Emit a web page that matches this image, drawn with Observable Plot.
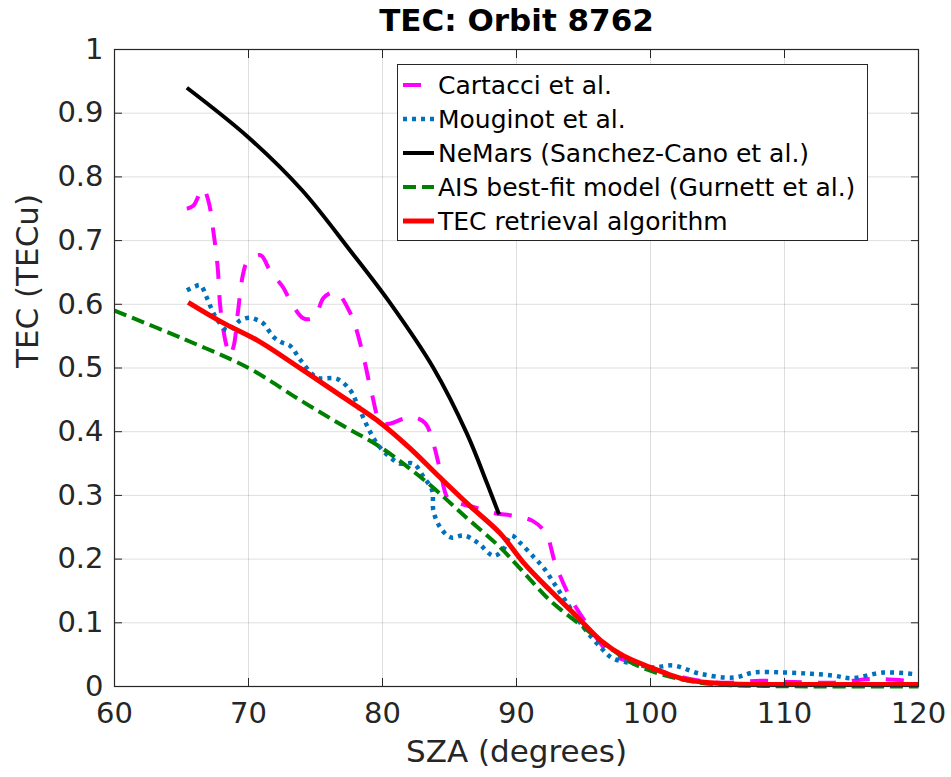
<!DOCTYPE html>
<html>
<head>
<meta charset="utf-8">
<script src="https://cdn.jsdelivr.net/npm/d3@7"></script>
<script src="https://cdn.jsdelivr.net/npm/@observablehq/plot@0.6"></script>
<style>
  body { margin: 0; background: #fff; }
  #wrap { position: relative; width: 951px; height: 777px; font-family: "DejaVu Sans", sans-serif; }
  #legend { position: absolute; left: 397px; top: 64px; width: 471px; height: 177px; box-sizing: border-box;
            border: 1px solid #262626; background: #fff; }
  .row { position: absolute; left: 0; height: 34px; display: flex; align-items: center; }
  .row svg { width: 40px; height: 34px; }
  .row span { font-size: 25px; color: #000; margin-left: 0px; white-space: nowrap; }
</style>
</head>
<body>
<div id="wrap"></div>
<script>
// ---- data ----
const titleText = "TEC: Orbit 8762";
const xLabel = "SZA (degrees)";
const yLabel = "TEC (TECu)";
const xTicks = [60, 70, 80, 90, 100, 110, 120];
const yTicks = [0, 0.1, 0.2, 0.3, 0.4, 0.5, 0.6, 0.7, 0.8, 0.9, 1];
const yTickLabels = ["0", "0.1", "0.2", "0.3", "0.4", "0.5", "0.6", "0.7", "0.8", "0.9", "1"];

const seriesNames = ["Cartacci et al.", "Mouginot et al.", "NeMars (Sanchez-Cano et al.)", "AIS best-fit model (Gurnett et al.)", "TEC retrieval algorithm"];
const seriesColors = ["#ff00ff", "#0072bd", "#000000", "#008000", "#ff0000"];
const seriesDash = ["18,16", "4,5", null, "13,6", null];

const cartacciSZA = [65.4, 65.9, 66.6, 67.0, 67.4, 67.7, 67.9, 68.3, 68.6, 68.9, 69.2, 69.6, 69.9, 70.9, 71.6, 72.6, 73.1, 74.1, 74.9, 75.6, 76.3, 76.7, 77.6, 78.0, 78.6, 79.2, 79.9, 80.6, 81.5, 82.3, 83.2, 83.8, 84.3, 84.9, 85.8, 86.9, 88.4, 89.8, 91.2, 92.2, 92.9, 94.0, 95.5, 97.0, 99.5, 102.5, 105.2, 108.2, 110.7, 113.7, 116.6, 119.4, 120];
const cartacciTEC = [0.75, 0.755, 0.782, 0.763, 0.711, 0.658, 0.595, 0.54, 0.52, 0.535, 0.586, 0.648, 0.666, 0.677, 0.653, 0.626, 0.606, 0.578, 0.579, 0.61, 0.619, 0.617, 0.586, 0.564, 0.516, 0.46, 0.413, 0.413, 0.42, 0.423, 0.413, 0.381, 0.34, 0.295, 0.287, 0.281, 0.272, 0.268, 0.26, 0.24, 0.193, 0.14, 0.091, 0.052, 0.033, 0.014, 0.006, 0.009, 0.007, 0.006, 0.012, 0.009, 0.009];

const mouginotSZA = [65.4, 66.0, 66.4, 66.9, 67.3, 67.7, 68.4, 68.9, 69.4, 70.1, 70.6, 71.1, 71.9, 72.5, 73.1, 73.9, 75.1, 76.6, 77.6, 78.1, 78.9, 79.6, 80.4, 81.3, 82.3, 83.1, 83.7, 83.8, 84.3, 85.1, 86.1, 87.1, 88.3, 89.0, 89.6, 90.3, 91.3, 92.0, 92.8, 93.8, 95.0, 96.3, 97.2, 98.7, 100.2, 101.7, 103.7, 106.2, 107.7, 110.0, 112.0, 113.7, 115.0, 117.4, 119.9];
const mouginotTEC = [0.622, 0.628, 0.63, 0.61, 0.59, 0.575, 0.559, 0.565, 0.575, 0.579, 0.576, 0.57, 0.548, 0.54, 0.535, 0.512, 0.485, 0.483, 0.465, 0.444, 0.407, 0.381, 0.363, 0.35, 0.35, 0.328, 0.308, 0.276, 0.25, 0.234, 0.237, 0.226, 0.205, 0.215, 0.237, 0.225, 0.203, 0.187, 0.162, 0.13, 0.093, 0.061, 0.044, 0.036, 0.03, 0.033, 0.02, 0.014, 0.022, 0.022, 0.02, 0.017, 0.013, 0.022, 0.019];

const nemarsSZA = [65.4, 70, 74, 77.6, 80.6, 83.8, 86.3, 87.8, 88.7];
const nemarsTEC = [0.94, 0.862, 0.779, 0.684, 0.601, 0.50, 0.397, 0.319, 0.27];

const aisSZA = [60, 65, 70, 73.9, 77, 79.9, 83.4, 86, 88.8, 90.5, 92.5, 95, 97, 98.7, 101, 103.7, 106, 108, 112, 120];
const aisTEC = [0.59, 0.547, 0.50, 0.449, 0.41, 0.375, 0.319, 0.27, 0.218, 0.18, 0.135, 0.093, 0.06, 0.036, 0.018, 0.006, 0.002, 0.001, 0, 0];

const tecSZA = [65.5, 68, 70.7, 73.9, 77, 79.9, 82, 84.3, 86.5, 88.8, 90.5, 92.5, 94.5, 96.3, 98, 100, 101.5, 102.8, 104.5, 106.2, 110, 115, 120];
const tecTEC = [0.603, 0.572, 0.543, 0.499, 0.455, 0.413, 0.375, 0.328, 0.284, 0.24, 0.195, 0.151, 0.11, 0.072, 0.048, 0.030, 0.018, 0.01, 0.006, 0.004, 0.003, 0.003, 0.003];

// ---- build ----
const allSZA = [cartacciSZA, mouginotSZA, nemarsSZA, aisSZA, tecSZA];
const allTEC = [cartacciTEC, mouginotTEC, nemarsTEC, aisTEC, tecTEC];
const tables = allSZA.map((xs, k) => xs.map((x, i) => ({sza: x, tec: allTEC[k][i]})));
const widths = [4, 4.5, 4, 4, 5];

const lineMarks = tables.map((t, k) => Plot.line(t, {
  x: "sza", y: "tec", stroke: seriesColors[k], strokeWidth: widths[k],
  strokeDasharray: seriesDash[k] || undefined, curve: "catmull-rom",
  strokeLinecap: "butt", strokeLinejoin: "round"
}));

const fmtY = d => yTickLabels[yTicks.indexOf(d)];
const blank = () => "";

const chart = Plot.plot({
  width: 951, height: 777,
  marginLeft: 114, marginRight: 33, marginTop: 49, marginBottom: 91,
  style: {fontFamily: "DejaVu Sans, sans-serif", fontSize: "29px", color: "#262626", background: "white"},
  x: {domain: [60, 120]},
  y: {domain: [0, 1]},
  marks: [
    Plot.gridX(xTicks, {stroke: "#000", strokeOpacity: 0.13, strokeWidth: 1}),
    Plot.gridY(yTicks, {stroke: "#000", strokeOpacity: 0.13, strokeWidth: 1}),
    ...lineMarks,
    Plot.frame({stroke: "#262626", strokeWidth: 1.2}),
    Plot.axisX(xTicks, {anchor: "bottom", tickSize: 0, tickPadding: 16, label: null, fontSize: 29, tickFormat: d => String(d)}),
    Plot.axisY(yTicks, {anchor: "left", tickSize: 0, tickPadding: 11, label: null, fontSize: 29, tickFormat: fmtY}),
    Plot.axisX(xTicks, {anchor: "bottom", tickSize: -8, label: null, tickFormat: blank}),
    Plot.axisX(xTicks, {anchor: "top", tickSize: -8, label: null, tickFormat: blank}),
    Plot.axisY(yTicks, {anchor: "left", tickSize: -8, label: null, tickFormat: blank}),
    Plot.axisY(yTicks, {anchor: "right", tickSize: -8, label: null, tickFormat: blank}),
    Plot.text([titleText], {text: d => d, frameAnchor: "top", dy: -28, fontSize: 31, fontWeight: "bold", fill: "#000", lineAnchor: "middle"}),
    Plot.text([xLabel], {text: d => d, frameAnchor: "bottom", dy: 66, fontSize: 31, fill: "#262626", lineAnchor: "middle"}),
    Plot.text([yLabel], {text: d => d, frameAnchor: "left", dx: -86, rotate: -90, fontSize: 31, fill: "#262626", lineAnchor: "middle"})
  ]
});

const wrap = document.getElementById("wrap");
wrap.appendChild(chart);

// legend
const legend = document.createElement("div");
legend.id = "legend";
seriesNames.forEach((name, k) => {
  const row = document.createElement("div");
  row.className = "row";
  row.style.top = (3 + k * 34) + "px";
  const svg = d3.create("svg");
  svg.append("line").attr("x1", 5).attr("x2", 36).attr("y1", 17).attr("y2", 17)
    .attr("stroke", seriesColors[k]).attr("stroke-width", widths[k])
    .attr("stroke-dasharray", seriesDash[k]);
  row.appendChild(svg.node());
  const span = document.createElement("span");
  span.textContent = name;
  row.appendChild(span);
  legend.appendChild(row);
});
wrap.appendChild(legend);
</script>
</body>
</html>
